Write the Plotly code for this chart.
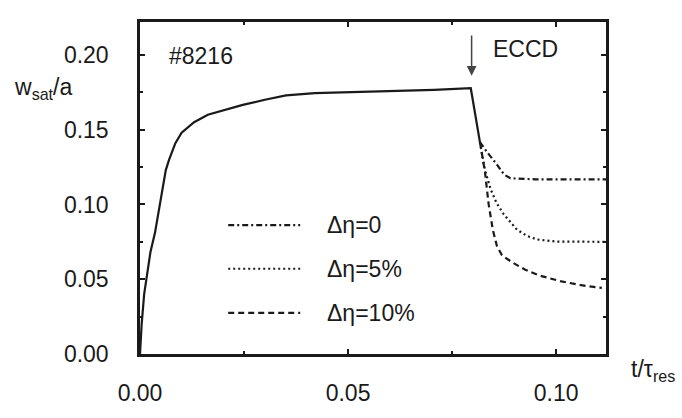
import plotly.graph_objects as go

# ---- data ----
t_base = [0.0, 0.0004, 0.0010, 0.0015, 0.0025, 0.0036, 0.0050, 0.0062, 0.0070, 0.0085,
          0.0100, 0.0130, 0.0163, 0.0200, 0.0247, 0.0300, 0.0351, 0.0420, 0.0500, 0.0600,
          0.0707, 0.0795, 0.0817]
w_base = [0.0, 0.020, 0.040, 0.050, 0.068, 0.081, 0.103, 0.123, 0.130, 0.141,
          0.148, 0.155, 0.160, 0.163, 0.1666, 0.170, 0.1729, 0.1745, 0.175, 0.1758,
          0.1766, 0.1777, 0.1417]

t_d0 = [0.0817, 0.0833, 0.0857, 0.0875, 0.0890, 0.0950, 0.1120]
w_d0 = [0.1417, 0.1354, 0.1270, 0.1200, 0.1175, 0.1168, 0.1168]

t_d5 = [0.0817, 0.0829, 0.0843, 0.0857, 0.0874, 0.0906, 0.0930, 0.0954, 0.1000, 0.1120]
w_d5 = [0.1417, 0.1229, 0.1100, 0.1010, 0.0935, 0.0831, 0.0790, 0.0766, 0.0752, 0.0750]

t_d10 = [0.0817, 0.0829, 0.0838, 0.0848, 0.0858, 0.0870, 0.0895, 0.0925, 0.0960, 0.1010, 0.1060, 0.1110]
w_d10 = [0.1417, 0.1220, 0.1000, 0.0830, 0.0720, 0.0660, 0.0612, 0.0565, 0.0525, 0.0487, 0.0460, 0.0442]

series_names = ["Δη=0", "Δη=5%", "Δη=10%"]
x_ticks = [0.0, 0.05, 0.10]
x_tick_labels = ["0.00", "0.05", "0.10"]
y_ticks = [0.0, 0.05, 0.10, 0.15, 0.20]
y_tick_labels = ["0.00", "0.05", "0.10", "0.15", "0.20"]
eccd_t = 0.0797

FONT = "Liberation Sans, Arial, sans-serif"
INK = "#1a1a1a"
FS = 23

fig = go.Figure()
fig.add_trace(go.Scatter(x=t_base, y=w_base, mode="lines",
                         line=dict(color=INK, width=2.2), showlegend=False))
styles = [("6px,3px,2px,3px", t_d0, w_d0), ("2px,3px", t_d5, w_d5), ("6px,4px", t_d10, w_d10)]
for (dash, tx, wy), name in zip(styles, series_names):
    fig.add_trace(go.Scatter(x=tx, y=wy, mode="lines", name=name,
                             line=dict(color=INK, width=2.2, dash=dash), showlegend=False))

# legend drawn inside the plot (key lines + labels)
leg_y = [0.0862, 0.0570, 0.0275]
for (dash, _, _), name, ly in zip(styles, series_names, leg_y):
    fig.add_shape(type="line", xref="x", yref="y", x0=0.0212, x1=0.0385, y0=ly, y1=ly,
                  line=dict(color=INK, width=2.2, dash=dash))
    fig.add_annotation(x=0.0445, y=ly, xref="x", yref="y", text=name, showarrow=False,
                       xanchor="left", yanchor="middle", font=dict(size=FS, family=FONT, color=INK))

fig.add_annotation(x=0.0066, y=0.1994, xref="x", yref="y", text="#8216", showarrow=False,
                   xanchor="left", yanchor="middle", font=dict(size=FS, family=FONT, color=INK))
fig.add_annotation(x=0.0843, y=0.2040, xref="x", yref="y", text="ECCD", showarrow=False,
                   xanchor="left", yanchor="middle", font=dict(size=FS, family=FONT, color=INK))
fig.add_annotation(x=eccd_t, y=0.1860, ax=eccd_t, ay=0.2140, xref="x", yref="y",
                   axref="x", ayref="y", showarrow=True, arrowhead=2, arrowsize=1.3,
                   arrowwidth=1.5, arrowcolor="#444", text="")

fig.add_annotation(x=-0.275, y=0.80, xref="paper", yref="paper",
                   text="w<sub>sat</sub>/a", showarrow=False, xanchor="left", yanchor="middle",
                   font=dict(size=FS, family=FONT, color=INK))
fig.add_annotation(x=1.05, y=-0.05, xref="paper", yref="paper",
                   text="t/τ<sub>res</sub>", showarrow=False, xanchor="left", yanchor="middle",
                   font=dict(size=FS, family=FONT, color=INK))

axis_common = dict(showline=True, linewidth=2.5, linecolor=INK, mirror="ticks",
                   ticks="inside", ticklen=5, tickwidth=1.5, tickcolor=INK,
                   showgrid=False, zeroline=False,
                   tickfont=dict(size=FS, family=FONT, color=INK))
fig.update_xaxes(range=[0, 0.112], tickvals=x_ticks, ticktext=x_tick_labels,
                 minor=dict(dtick=0.025, ticks="inside", ticklen=3, tickcolor=INK, showgrid=False),
                 ticklabelstandoff=17, **axis_common)
fig.update_yaxes(range=[0, 0.222], tickvals=y_ticks, ticktext=y_tick_labels,
                 minor=dict(dtick=0.025, ticks="inside", ticklen=3, tickcolor=INK, showgrid=False),
                 ticklabelstandoff=24, **axis_common)

fig.update_layout(width=682, height=418, margin=dict(l=140, r=76, t=22, b=42),
                  paper_bgcolor="white", plot_bgcolor="white", showlegend=False,
                  font=dict(family=FONT, color=INK))
fig.write_html("out.html")
